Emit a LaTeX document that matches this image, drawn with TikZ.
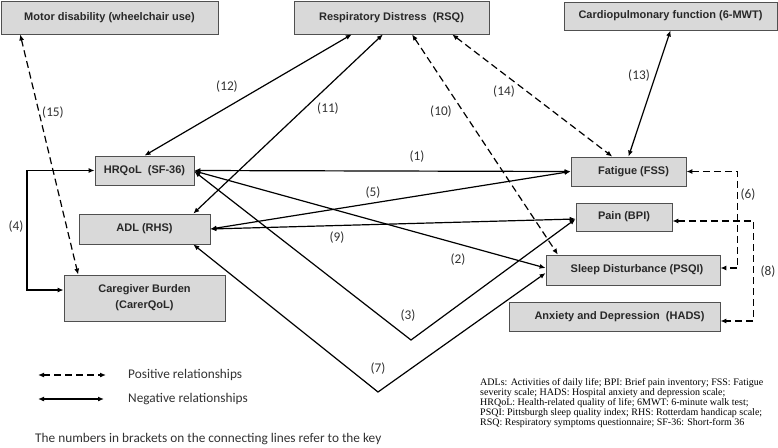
\documentclass[tikz,border=0pt]{standalone}
\usepackage{fontspec}
\setmainfont{Liberation Sans}
\newfontfamily\boxfont{Liberation Sans}
\newfontfamily\calib{Carlito}
\newfontfamily\timesf{Liberation Serif}
\usetikzlibrary{arrows.meta,calc}
\definecolor{boxfill}{RGB}{217,217,217}
\definecolor{boxborder}{RGB}{80,80,80}
\definecolor{boxtext}{RGB}{40,40,40}
\definecolor{labeltext}{RGB}{50,50,50}
\begin{document}
\begin{tikzpicture}[x=1pt,y=-1pt,
 box/.style={draw=boxborder,fill=boxfill,line width=0.8pt,inner sep=0pt,font=\boxfont\fontsize{11}{16}\selectfont\bfseries,text=boxtext,align=center},
 negrel/.style={line width=1.2pt,{Latex[length=6pt,width=5pt]}-{Latex[length=6pt,width=5pt]}},
 posrel/.style={negrel,dash pattern=on 7pt off 4pt},
 lbl/.style={font=\calib\fontsize{13.3}{15}\selectfont,text=labeltext,inner sep=0pt}
]
\useasboundingbox (0,0) rectangle (778,447);

% boxes
\node[box,minimum width=217pt,minimum height=33pt] (motor) at (109.5,17.5) {Motor disability (wheelchair use)};
\node[box,minimum width=195pt,minimum height=33pt] (rsq) at (391.5,17.5) {Respiratory Distress\ \ (RSQ)};
\node[box,minimum width=213pt,minimum height=28pt] (cardio) at (670.5,16) {Cardiopulmonary function (6-MWT)};
\node[box,minimum width=99pt,minimum height=29pt] (hrqol) at (144.5,170.5) {HRQoL\ \ (SF-36)};
\node[box,minimum width=131pt,minimum height=30pt] (adl) at (144.5,229) {ADL (RHS)};
\node[box,minimum width=161pt,minimum height=46pt] (care) at (144.5,298) {Caregiver Burden\\(CarerQoL)};
\node[box,minimum width=115pt,minimum height=29pt] (fatigue) at (628.5,171.5) {\hspace*{10pt}Fatigue (FSS)};
\node[box,minimum width=96pt,minimum height=28pt] (pain) at (624,217) {Pain (BPI)};
\node[box,minimum width=174pt,minimum height=30pt] (sleep) at (633,270) {\hspace*{8pt}Sleep Disturbance (PSQI)};
\node[box,minimum width=211pt,minimum height=29pt] (anxiety) at (614.5,316.5) {\hspace*{10pt}Anxiety and Depression\ \ (HADS)};

% helper coordinates
\coordinate (c4a) at (27,170.5);
\coordinate (c4b) at (27,290);
\coordinate (v3) at (411,340);
\coordinate (v7) at (378,392);

% connectors
\draw[negrel] (hrqol.east) -- (fatigue.west);
\draw[negrel] ($(hrqol.east)+(0,0.5)$) -- ($(sleep.west)+(0,-2)$);
\draw[negrel] ($(hrqol.east)+(0,1)$) -- (v3) -- ($(pain.west)+(0,2)$);
\draw[negrel] (hrqol.west) -- (c4a) -- (c4b) -- (care.west |- c4b);
\draw[negrel] (adl.east) -- (fatigue.west);
\draw[posrel] (fatigue.east) -| ($(sleep.east)+(17,-2)$) -- ($(sleep.east)+(0,-2)$);
\draw[negrel] ($(adl.south west)!0.87!(adl.south east)$) -- (v7) -- ($(sleep.west)+(0,3)$);
\draw[posrel] ($(pain.east)+(0,4)$) -| ($(anxiety.east)+(33,4.5)$) -- ($(anxiety.east)+(0,4.5)$);
\draw[negrel] (adl.east) -- ($(pain.west)+(0,2)$);
\draw[posrel] ($(rsq.south west)!0.605!(rsq.south east)$) -- ($(sleep.north west)!0.07!(sleep.north east)$);
\draw[negrel] ($(rsq.south west)!0.456!(rsq.south east)$) -- ($(adl.north west)!0.87!(adl.north east)$);
\draw[negrel] ($(rsq.south west)!0.297!(rsq.south east)$) -- (hrqol.north);
\draw[negrel] (cardio.south) -- (fatigue.north);
\draw[posrel] ($(rsq.south west)!0.81!(rsq.south east)$) -- ($(fatigue.north west)!0.36!(fatigue.north east)$);
\draw[posrel] ($(motor.south west)!0.09!(motor.south east)$) -- ($(care.north west)!0.09!(care.north east)$);

% labels
\node[lbl] (l1) at (417,157) {(1)};
\node[lbl] (l2) at (458,260) {(2)};
\node[lbl] (l3) at (408,316) {(3)};
\node[lbl] (l4) at (16,227) {(4)};
\node[lbl] (l5) at (373,193) {(5)};
\node[lbl] (l6) at (748,195) {(6)};
\node[lbl] (l7) at (378,369) {(7)};
\node[lbl] (l8) at (768,272) {(8)};
\node[lbl] (l9) at (337,238) {(9)};
\node[lbl] (l10) at (441,112) {(10)};
\node[lbl] (l11) at (328,109) {(11)};
\node[lbl] (l12) at (227,87) {(12)};
\node[lbl] (l13) at (639,76) {(13)};
\node[lbl] (l14) at (504,92) {(14)};
\node[lbl] (l15) at (53,113) {(15)};

% legend
\coordinate (lp1) at (38,375);
\coordinate (lp2) at (106,375);
\coordinate (ln1) at (38,399);
\coordinate (ln2) at (104,399);
\draw[posrel] (lp1) -- (lp2);
\draw[negrel] (ln1) -- (ln2);
\node[lbl,anchor=west] (tpos) at (128,375) {Positive relationships};
\node[lbl,anchor=west] (tneg) at (128,399) {Negative relationships};
\node[lbl,anchor=west] (tkey) at (35,439) {The numbers in brackets on the connecting lines refer to the key};

\node[anchor=north west,inner sep=0pt,align=left,font=\timesf\fontsize{10}{10}\selectfont] (abbr) at (480,378)
{ADLs: Activities of daily life; BPI: Brief pain inventory; FSS: Fatigue\\
severity scale; HADS: Hospital anxiety and depression scale;\\
HRQoL: Health-related quality of life; 6MWT: 6-minute walk test;\\
PSQI: Pittsburgh sleep quality index; RHS: Rotterdam handicap scale;\\
RSQ: Respiratory symptoms questionnaire; SF-36: Short-form 36};
\end{tikzpicture}
\end{document}
